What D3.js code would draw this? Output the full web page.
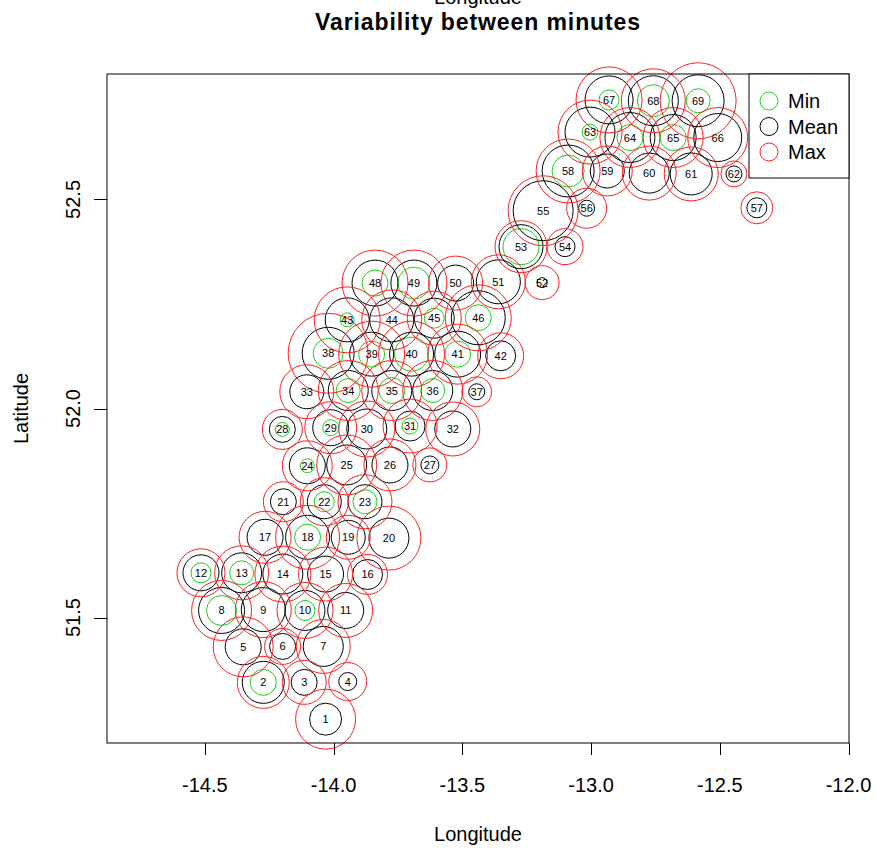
<!DOCTYPE html>
<html>
<head>
<meta charset="utf-8">
<script src="https://cdn.jsdelivr.net/npm/d3@7"></script>
<style>
  body { margin: 0; background: #fff; }
  text { font-family: "Liberation Sans", Arial, sans-serif; }
</style>
</head>
<body>
<div id="chart"></div>
<script>
// station numbers and positions
const stations = [1,2,3,4,5,6,7,8,9,10,11,12,13,14,15,16,17,18,19,20,21,22,23,24,25,26,27,28,29,30,
  31,32,33,34,35,36,37,38,39,40,41,42,43,44,45,46,48,49,50,51,52,53,54,55,56,57,58,59,60,61,62,63,64,65,66,67,68,69];
const lon = [-14.031,-14.273,-14.114,-13.945,-14.351,-14.198,-14.040,-14.435,-14.273,-14.111,-13.953,
  -14.515,-14.357,-14.197,-14.031,-13.868,-14.266,-14.101,-13.943,-13.785,-14.195,-14.036,-13.878,
  -14.102,-13.949,-13.781,-13.626,-14.199,-14.011,-13.871,-13.703,-13.537,-14.104,-13.943,-13.774,
  -13.615,-13.444,-14.021,-13.852,-13.697,-13.518,-13.351,-13.947,-13.774,-13.609,-13.438,-13.839,
  -13.688,-13.526,-13.360,-13.190,-13.272,-13.101,-13.186,-13.017,-12.356,-13.089,-12.937,-12.774,
  -12.611,-12.445,-13.004,-12.849,-12.681,-12.508,-12.930,-12.758,-12.584];
const lat = [51.257,51.345,51.345,51.347,51.430,51.431,51.431,51.517,51.519,51.517,51.517,
  51.607,51.607,51.604,51.604,51.603,51.692,51.692,51.692,51.690,51.777,51.777,51.777,
  51.863,51.865,51.865,51.865,51.950,51.954,51.951,51.958,51.951,52.040,52.043,52.043,
  52.043,52.040,52.132,52.130,52.130,52.130,52.126,52.212,52.212,52.216,52.217,52.300,
  52.300,52.300,52.303,52.301,52.387,52.387,52.473,52.479,52.480,52.568,52.568,52.563,
  52.561,52.561,52.661,52.648,52.648,52.648,52.738,52.736,52.736];

// circle sizes per station
const minVal = [0,1.3,0,0,0,0,0,1.5,0,1.0,0,1.0,1.2,0,0,0,0,1.3,0,0,0,1.0,1.2,
  0.7,0,0,0,0.7,0.8,0,0.8,0,0,1.2,1.3,1.2,0,1.5,1.3,1.7,1.3,0,0.7,0,1.0,1.3,1.3,
  1.6,0,0,0,1.8,0,0,0,0,1.6,0,0,0,0,0.8,1.3,1.3,0,1.0,1.6,1.2];
const meanVal = [1.6,2.1,1.3,0.9,1.8,1.3,2.0,2.3,2.2,2.0,1.8,1.8,2.0,2.0,1.8,1.5,1.8,2.2,1.7,2.0,1.3,1.7,1.7,
  1.8,2.0,1.8,0.9,1.3,1.8,2.0,1.5,1.8,1.7,2.0,2.0,2.0,0.8,2.6,2.2,2.2,2.3,1.5,2.2,2.2,2.0,2.7,2.3,
  2.3,1.8,2.2,0.5,2.2,1.0,3.0,0.8,1.0,2.6,1.7,2.0,2.1,0.8,2.5,2.5,2.3,2.4,2.4,2.5,2.6];
const maxVal = [3.0,2.6,2.2,1.9,3.0,1.8,2.7,3.0,2.8,2.8,2.7,2.4,2.7,2.8,2.7,2.0,2.6,3.2,2.2,3.2,2.0,2.4,2.7,
  2.5,3.0,2.6,1.7,2.0,2.6,2.8,2.7,2.7,2.7,3.0,3.0,3.0,1.5,4.0,3.3,3.3,3.0,2.3,3.3,3.0,2.7,3.3,3.3,
  3.3,2.7,2.7,1.7,2.6,1.8,3.5,2.0,1.6,3.2,2.5,2.7,2.7,1.3,3.2,3.0,3.0,3.0,3.3,3.2,3.8];

const xTicks = [-14.5, -14.0, -13.5, -13.0, -12.5, -12.0];
const yTicks = [51.5, 52.0, 52.5];
const legendLabels = ["Min", "Mean", "Max"];
const legendColors = ["#17d217", "#000000", "#ff2020"];

const width = 876, height = 848;
const margin = { left: 107, right: 27, top: 74, bottom: 105 };

const svg = d3.select("#chart").append("svg")
  .attr("width", width)
  .attr("height", height);

const x = d3.scaleLinear().domain([-14.88, -12.0]).range([margin.left, width - margin.right - 0.5]);
const y = d3.scaleLinear().domain([51.2, 52.8]).range([height - margin.bottom, margin.top]);
const r = d3.scaleLinear().domain([0, 4]).range([0, 40]);

const data = stations.map((s, i) => ({
  id: s, lon: lon[i], lat: lat[i], min: minVal[i], mean: meanVal[i], max: maxVal[i]
}));

// circles: min, mean, max layers (not clipped, like the original)
const layers = [["min", legendColors[0]], ["mean", legendColors[1]], ["max", legendColors[2]]];
layers.forEach(([key, col]) => {
  svg.append("g").selectAll("circle")
    .data(data.filter(d => d[key] > 0))
    .join("circle")
    .attr("cx", d => x(d.lon))
    .attr("cy", d => y(d.lat))
    .attr("r", d => r(d[key]))
    .attr("fill", "none")
    .attr("stroke", col)
    .attr("stroke-width", 1);
});

// station labels
svg.append("g").selectAll("text")
  .data(data)
  .join("text")
  .attr("x", d => x(d.lon))
  .attr("y", d => y(d.lat) + 4)
  .attr("text-anchor", "middle")
  .style("font-size", "11px")
  .text(d => d.id);

// plot frame
svg.append("rect")
  .attr("x", margin.left).attr("y", margin.top)
  .attr("width", width - margin.right - margin.left)
  .attr("height", height - margin.bottom - margin.top)
  .attr("fill", "none").attr("stroke", "#000");

// x axis
const xAxis = svg.append("g");
xAxis.selectAll("line").data(xTicks).join("line")
  .attr("x1", d => Math.round(x(d)) + 0.5).attr("x2", d => Math.round(x(d)) + 0.5)
  .attr("y1", height - margin.bottom).attr("y2", height - margin.bottom + 12)
  .attr("stroke", "#000");
xAxis.selectAll("text").data(xTicks).join("text")
  .attr("x", d => x(d)).attr("y", 792)
  .attr("text-anchor", "middle")
  .style("font-size", "20px")
  .text(d => d.toFixed(1));

// y axis
const yAxis = svg.append("g");
yAxis.selectAll("line").data(yTicks).join("line")
  .attr("x1", margin.left - 13).attr("x2", margin.left)
  .attr("y1", d => Math.round(y(d)) + 0.5).attr("y2", d => Math.round(y(d)) + 0.5)
  .attr("stroke", "#000");
yAxis.selectAll("text").data(yTicks).join("text")
  .attr("transform", d => `translate(80,${y(d)}) rotate(-90)`)
  .attr("text-anchor", "middle")
  .style("font-size", "20px")
  .text(d => d.toFixed(1));

// axis titles
svg.append("text")
  .attr("x", (margin.left + width - margin.right) / 2).attr("y", 841)
  .attr("text-anchor", "middle").style("font-size", "20px")
  .text("Longitude");
svg.append("text")
  .attr("x", (margin.left + width - margin.right) / 2).attr("y", 4)
  .attr("text-anchor", "middle").style("font-size", "20px")
  .text("Longitude");
svg.append("text")
  .attr("transform", `translate(28,${(margin.top + height - margin.bottom) / 2}) rotate(-90)`)
  .attr("text-anchor", "middle").style("font-size", "20px")
  .text("Latitude");

// title
svg.append("text")
  .attr("x", (margin.left + width - margin.right) / 2).attr("y", 30)
  .attr("text-anchor", "middle")
  .style("font-size", "23px").style("font-weight", "bold")
  .style("letter-spacing", "0.9px")
  .text("Variability between minutes");

// legend
const legend = svg.append("g");
legend.append("rect")
  .attr("x", 749).attr("y", margin.top)
  .attr("width", width - margin.right - 749).attr("height", 104)
  .attr("fill", "#fff").attr("stroke", "#000");
legendLabels.forEach((lab, i) => {
  const cy = 101 + i * 25.5;
  legend.append("circle")
    .attr("cx", 769).attr("cy", cy).attr("r", 9)
    .attr("fill", "none").attr("stroke", legendColors[i]);
  legend.append("text")
    .attr("x", 788).attr("y", cy + 7)
    .style("font-size", "20px")
    .text(lab);
});
</script>
</body>
</html>
